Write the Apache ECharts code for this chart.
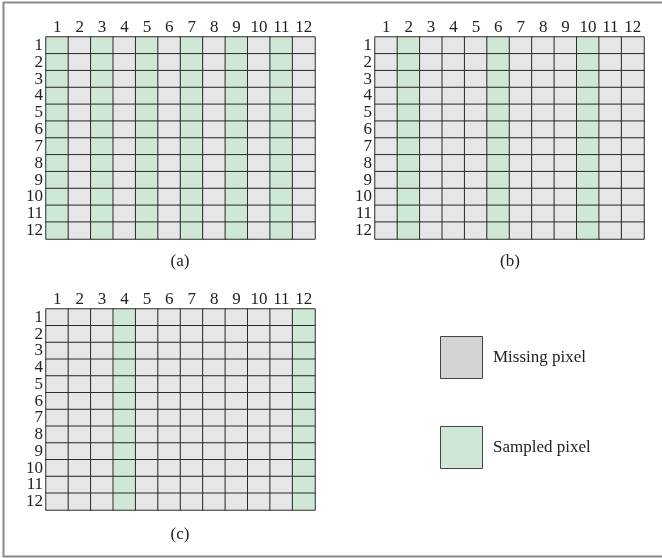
<!DOCTYPE html>
<html>
<head>
<meta charset="utf-8">
<script src="https://cdn.jsdelivr.net/npm/echarts@6/dist/echarts.min.js"></script>
<style>
html,body{margin:0;padding:0;background:#fff;}
#chart{width:662px;height:558px;}
</style>
</head>
<body>
<div id="chart"></div>
<script>
// ---- data ----
var columnLabels = ['1','2','3','4','5','6','7','8','9','10','11','12'];
var rowLabels = ['1','2','3','4','5','6','7','8','9','10','11','12'];
var sampledColsA = [1,3,5,7,9,11];
var sampledColsB = [2,6,10];
var sampledColsC = [4,12];
var panelCaptions = ['(a)','(b)','(c)'];
var legendLabels = ['Missing pixel','Sampled pixel'];

var FONT = '"Liberation Serif", "DejaVu Serif", serif';
var FS = 17;
var MISSING = '#e6e6e8';
var SAMPLED = '#cfe8d6';
var LINE = '#2b2b2b';

function buildData(sampled) {
  var out = [];
  for (var r = 0; r < rowLabels.length; r++) {
    for (var c = 0; c < columnLabels.length; c++) {
      var isS = sampled.indexOf(c + 1) >= 0 ? 1 : 0;
      out.push([c, r, isS]);
    }
  }
  return out;
}

var grids = [
  {left: 46, top: 37, width: 269, height: 202},
  {left: 375, top: 37, width: 269, height: 202},
  {left: 46, top: 309, width: 269, height: 201}
];
var sets = [sampledColsA, sampledColsB, sampledColsC];

var xAxes = [], yAxes = [], series = [];
grids.forEach(function (g, i) {
  xAxes.push({
    type: 'category', gridIndex: i, data: columnLabels, position: 'top',
    axisLine: {show: false}, axisTick: {show: false}, splitLine: {show: false},
    axisLabel: {fontFamily: FONT, fontSize: FS, color: '#222', margin: 1, interval: 0}
  });
  yAxes.push({
    type: 'category', gridIndex: i, data: rowLabels, inverse: true,
    axisLine: {show: false}, axisTick: {show: false}, splitLine: {show: false},
    axisLabel: {fontFamily: FONT, fontSize: FS, color: '#222', margin: 3, interval: 0}
  });
  series.push({
    type: 'heatmap', xAxisIndex: i, yAxisIndex: i, data: buildData(sets[i]),
    itemStyle: {borderColor: LINE, borderWidth: 1},
    emphasis: {disabled: true}, silent: true
  });
});

var option = {
  animation: false,
  backgroundColor: '#fff',
  grid: grids.map(function (g) { return Object.assign({containLabel: false}, g); }),
  xAxis: xAxes,
  yAxis: yAxes,
  visualMap: {
    type: 'piecewise', show: false, dimension: 2,
    pieces: [{value: 0, color: MISSING}, {value: 1, color: SAMPLED}]
  },
  series: series,
  graphic: [
    {type: 'rect', shape: {x: 3.5, y: 2.5, width: 670, height: 554}, style: {fill: 'none', stroke: '#8a8a8a', lineWidth: 2}},
    {type: 'text', x: 180, y: 262, style: {text: panelCaptions[0], font: FS + 'px ' + FONT, fill: '#222', align: 'center', verticalAlign: 'middle'}},
    {type: 'text', x: 510, y: 262, style: {text: panelCaptions[1], font: FS + 'px ' + FONT, fill: '#222', align: 'center', verticalAlign: 'middle'}},
    {type: 'text', x: 180, y: 535, style: {text: panelCaptions[2], font: FS + 'px ' + FONT, fill: '#222', align: 'center', verticalAlign: 'middle'}},
    {type: 'rect', shape: {x: 440.5, y: 336.5, width: 42, height: 42}, style: {fill: '#d2d3d5', stroke: '#444', lineWidth: 1}},
    {type: 'text', x: 493, y: 358, style: {text: legendLabels[0], font: FS + 'px ' + FONT, fill: '#222', align: 'left', verticalAlign: 'middle'}},
    {type: 'rect', shape: {x: 440.5, y: 426.5, width: 42, height: 42}, style: {fill: SAMPLED, stroke: '#444', lineWidth: 1}},
    {type: 'text', x: 493, y: 448, style: {text: legendLabels[1], font: FS + 'px ' + FONT, fill: '#222', align: 'left', verticalAlign: 'middle'}}
  ]
};

var chart = echarts.init(document.getElementById('chart'), null, {renderer: 'canvas'});
chart.setOption(option);
</script>
</body>
</html>
